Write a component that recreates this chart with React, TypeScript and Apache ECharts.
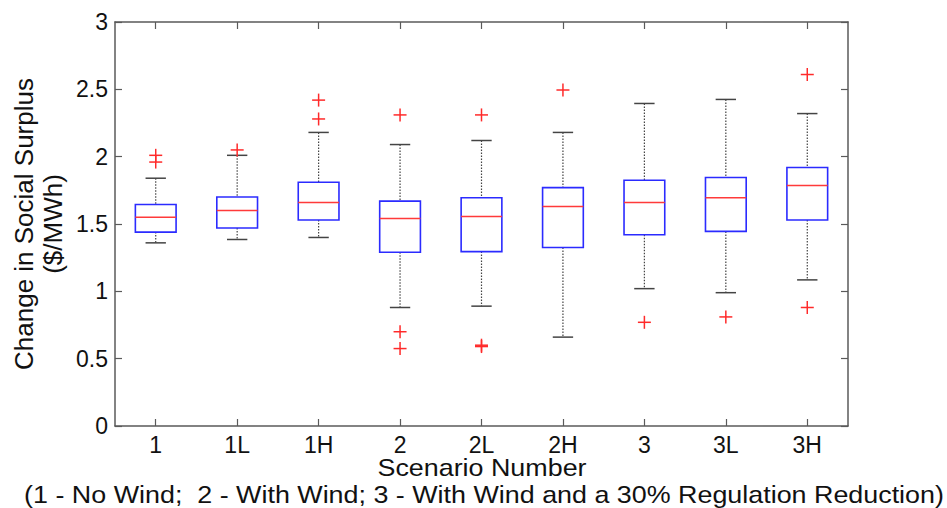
import React, { useEffect, useRef } from "react";
import * as echarts from "echarts";

const categories = ["1", "1L", "1H", "2", "2L", "2H", "3", "3L", "3H"];
// [lower whisker, Q1, median, Q3, upper whisker]
const whiskerLow = [1.36, 1.385, 1.40, 0.88, 0.89, 0.66, 1.02, 0.99, 1.085];
const quartile1 = [1.44, 1.47, 1.53, 1.29, 1.295, 1.325, 1.42, 1.445, 1.53];
const medians = [1.55, 1.60, 1.66, 1.54, 1.555, 1.63, 1.66, 1.695, 1.785];
const quartile3 = [1.645, 1.70, 1.81, 1.67, 1.695, 1.77, 1.825, 1.845, 1.92];
const whiskerHigh = [1.84, 2.01, 2.18, 2.09, 2.12, 2.18, 2.395, 2.425, 2.32];
// outliers: [category index, value]
const outliers: [number, number][] = [
  [0, 2.01], [0, 1.96],
  [1, 2.05],
  [2, 2.42], [2, 2.28],
  [3, 2.31], [3, 0.70], [3, 0.575],
  [4, 2.31], [4, 0.60], [4, 0.59],
  [5, 2.495],
  [6, 0.77],
  [7, 0.81],
  [8, 2.61], [8, 0.88],
];
const yTicks = { min: 0, max: 3, interval: 0.5 };

const FONT = "'Liberation Sans', Arial, Helvetica, sans-serif";
const AXIS_COLOR = "#5a5a5a";
const TEXT_COLOR = "#111";

export default function App() {
  const ref = useRef<HTMLDivElement>(null);
  useEffect(() => {
    if (!ref.current) return;
    const chart = echarts.init(ref.current, undefined, { renderer: "svg" });
    const boxData = categories.map((_, i) => [
      i, whiskerLow[i], quartile1[i], medians[i], quartile3[i], whiskerHigh[i],
    ]);
    const axisLine = { show: true, onZero: false, lineStyle: { color: AXIS_COLOR, width: 1.5 } };
    const axisTick = { show: true, inside: true, length: 7, lineStyle: { color: AXIS_COLOR, width: 1.2 } };
    chart.setOption({
      animation: false,
      backgroundColor: "#fff",
      textStyle: { fontFamily: FONT },
      grid: { left: 115, right: 99, top: 22, bottom: 82, containLabel: false, outerBoundsMode: "none" },
      xAxis: [
        {
          type: "category", data: categories, position: "bottom", boundaryGap: true,
          axisLine, axisTick: { ...axisTick, alignWithLabel: true },
          axisLabel: { fontSize: 23, color: TEXT_COLOR, margin: 7, fontFamily: FONT },
          splitLine: { show: false },
        },
        {
          type: "category", data: categories, position: "top", boundaryGap: true,
          axisLine, axisTick: { ...axisTick, alignWithLabel: true },
          axisLabel: { show: false }, splitLine: { show: false },
        },
      ],
      yAxis: [
        {
          type: "value", position: "left", ...yTicks,
          axisLine, axisTick,
          axisLabel: { fontSize: 23, color: TEXT_COLOR, margin: 7, fontFamily: FONT },
          splitLine: { show: false },
        },
        {
          type: "value", position: "right", ...yTicks,
          axisLine, axisTick, axisLabel: { show: false }, splitLine: { show: false },
        },
      ],
      series: [
        {
          type: "custom",
          xAxisIndex: 0, yAxisIndex: 0,
          data: boxData,
          encode: { x: 0, y: [1, 2, 3, 4, 5] },
          renderItem: (params: any, api: any) => {
            const idx = api.value(0);
            const pMin = api.coord([idx, api.value(1)]);
            const pQ1 = api.coord([idx, api.value(2)]);
            const pMed = api.coord([idx, api.value(3)]);
            const pQ3 = api.coord([idx, api.value(4)]);
            const pMax = api.coord([idx, api.value(5)]);
            const band = api.size([1, 0])[0];
            const bw = band * 0.5;
            const cw = band * 0.25;
            const x = pMed[0];
            const dotted = { stroke: "#444", lineWidth: 1.2, lineDash: [1.5, 1.5], fill: null };
            const solid = { stroke: "#444", lineWidth: 1.5, fill: null };
            return {
              type: "group",
              children: [
                { type: "line", shape: { x1: x, y1: pMax[1], x2: x, y2: pQ3[1] }, style: dotted },
                { type: "line", shape: { x1: x, y1: pQ1[1], x2: x, y2: pMin[1] }, style: dotted },
                { type: "line", shape: { x1: x - cw / 2, y1: pMax[1], x2: x + cw / 2, y2: pMax[1] }, style: solid },
                { type: "line", shape: { x1: x - cw / 2, y1: pMin[1], x2: x + cw / 2, y2: pMin[1] }, style: solid },
                {
                  type: "rect",
                  shape: { x: x - bw / 2, y: pQ3[1], width: bw, height: pQ1[1] - pQ3[1] },
                  style: { stroke: "#2b2bff", lineWidth: 1.6, fill: "none" },
                },
                {
                  type: "line",
                  shape: { x1: x - bw / 2, y1: pMed[1], x2: x + bw / 2, y2: pMed[1] },
                  style: { stroke: "#ff3a3a", lineWidth: 1.5 },
                },
              ],
            };
          },
          z: 3,
        },
        {
          type: "custom",
          xAxisIndex: 0, yAxisIndex: 0,
          data: outliers,
          encode: { x: 0, y: 1 },
          renderItem: (params: any, api: any) => {
            const p = api.coord([api.value(0), api.value(1)]);
            const h = 6.5;
            const st = { stroke: "#ff2a2a", lineWidth: 1.5 };
            return {
              type: "group",
              children: [
                { type: "line", shape: { x1: p[0] - h, y1: p[1], x2: p[0] + h, y2: p[1] }, style: st },
                { type: "line", shape: { x1: p[0], y1: p[1] - h, x2: p[0], y2: p[1] + h }, style: st },
              ],
            };
          },
          z: 4,
        },
      ],
      graphic: [
        {
          type: "text",
          x: 38, y: 224, rotation: Math.PI / 2,
          style: {
            text: "Change in Social Surplus\n($/MWh)",
            fontSize: 26, lineHeight: 29, fontFamily: FONT, fill: TEXT_COLOR,
            textAlign: "center", textVerticalAlign: "middle",
          },
        },
        {
          type: "text",
          x: 482, y: 468, scaleX: 1.12,
          style: {
            text: "Scenario Number",
            fontSize: 24, fontFamily: FONT, fill: TEXT_COLOR,
            textAlign: "center", textVerticalAlign: "middle",
          },
        },
        {
          type: "text",
          x: 484, y: 495, scaleX: 1.12,
          style: {
            text: "(1 - No Wind;  2 - With Wind; 3 - With Wind and a 30% Regulation Reduction)",
            fontSize: 24, fontFamily: FONT, fill: TEXT_COLOR,
            textAlign: "center", textVerticalAlign: "middle",
          },
        },
      ],
    });
    return () => chart.dispose();
  }, []);
  return (
    <div
      ref={ref}
      style={{ position: "fixed", left: 0, top: 0, width: 947, height: 508, background: "#fff" }}
    />
  );
}
